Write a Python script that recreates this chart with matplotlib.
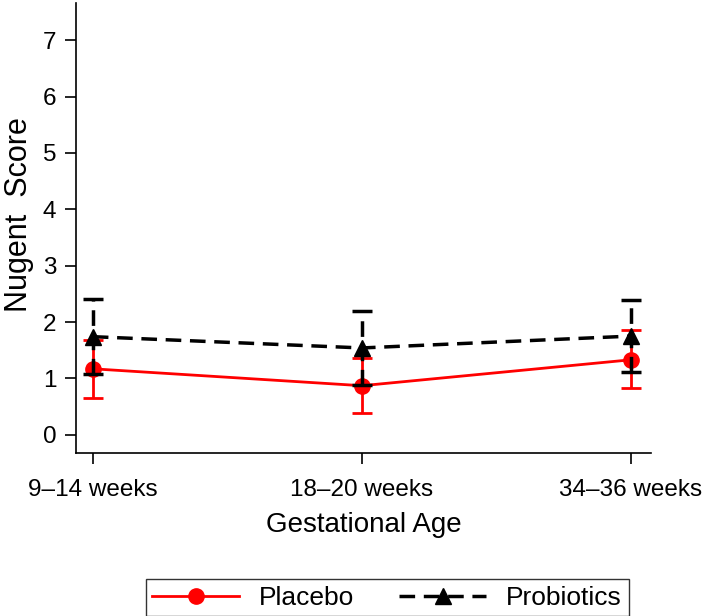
import numpy as np
import matplotlib.pyplot as plt
from matplotlib.lines import Line2D

plt.rcParams['font.family'] = ['Liberation Sans', 'DejaVu Sans']

weeks = ['9–14 weeks', '18–20 weeks', '34–36 weeks']
placebo = [1.17, 0.87, 1.33]
placebo_lo = [0.66, 0.38, 0.83]
placebo_hi = [1.68, 1.36, 1.86]
probiotics = [1.74, 1.54, 1.75]
probiotics_lo = [1.07, 0.88, 1.12]
probiotics_hi = [2.41, 2.20, 2.39]

x = np.arange(len(weeks))
dash = (0, (4.5, 2.5))

fig = plt.figure(figsize=(7.09, 6.16), dpi=100)
ax = fig.add_axes([0.107, 0.265, 0.811, 0.73])

pl = np.array(placebo)
pr = np.array(probiotics)

ax.errorbar(x, pl, yerr=[pl - np.array(placebo_lo), np.array(placebo_hi) - pl],
            color='#ff0000', marker='o', markersize=11, linewidth=2,
            elinewidth=2, capsize=7, capthick=2, zorder=3)
eb2 = ax.errorbar(x, pr, yerr=[pr - np.array(probiotics_lo), np.array(probiotics_hi) - pr],
                  color='black', marker='^', markersize=12, linewidth=2.5, linestyle=dash,
                  elinewidth=2.5, capsize=7, capthick=2.5, zorder=4)
for lc in eb2[2]:
    lc.set_linestyle(dash)

ax.set_xlim(-0.063, 2.074)
ax.set_ylim(-0.32, 7.66)
ax.set_yticks(range(0, 8))
ax.set_xticks(x)
ax.set_xticklabels(weeks)
ax.spines['top'].set_visible(False)
ax.spines['right'].set_visible(False)
ax.spines['left'].set_linewidth(1.2)
ax.spines['bottom'].set_linewidth(1.2)
ax.tick_params(axis='both', labelsize=17.5, length=8, width=1.2)
ax.tick_params(axis='x', pad=11)
ax.tick_params(axis='y', pad=6)
ax.set_xlabel('Gestational Age', fontsize=20, labelpad=8)
ax.set_ylabel('Nugent  Score', fontsize=22)
ax.yaxis.set_label_coords(-0.072, 0.53)

handles = [Line2D([], [], color='#ff0000', marker='o', markersize=11, linewidth=2),
           Line2D([], [], color='black', marker='^', markersize=12, linewidth=2.5, linestyle=dash)]
fig.legend(handles=handles, labels=['Placebo', 'Probiotics'], loc='center',
           bbox_to_anchor=(0.546, 0.0295), ncol=2, fontsize=19, frameon=True,
           fancybox=False, edgecolor='black', handlelength=3.3, columnspacing=1.7,
           borderpad=0.25, handletextpad=0.75, borderaxespad=0)

fig.savefig('out.png', dpi=100)
